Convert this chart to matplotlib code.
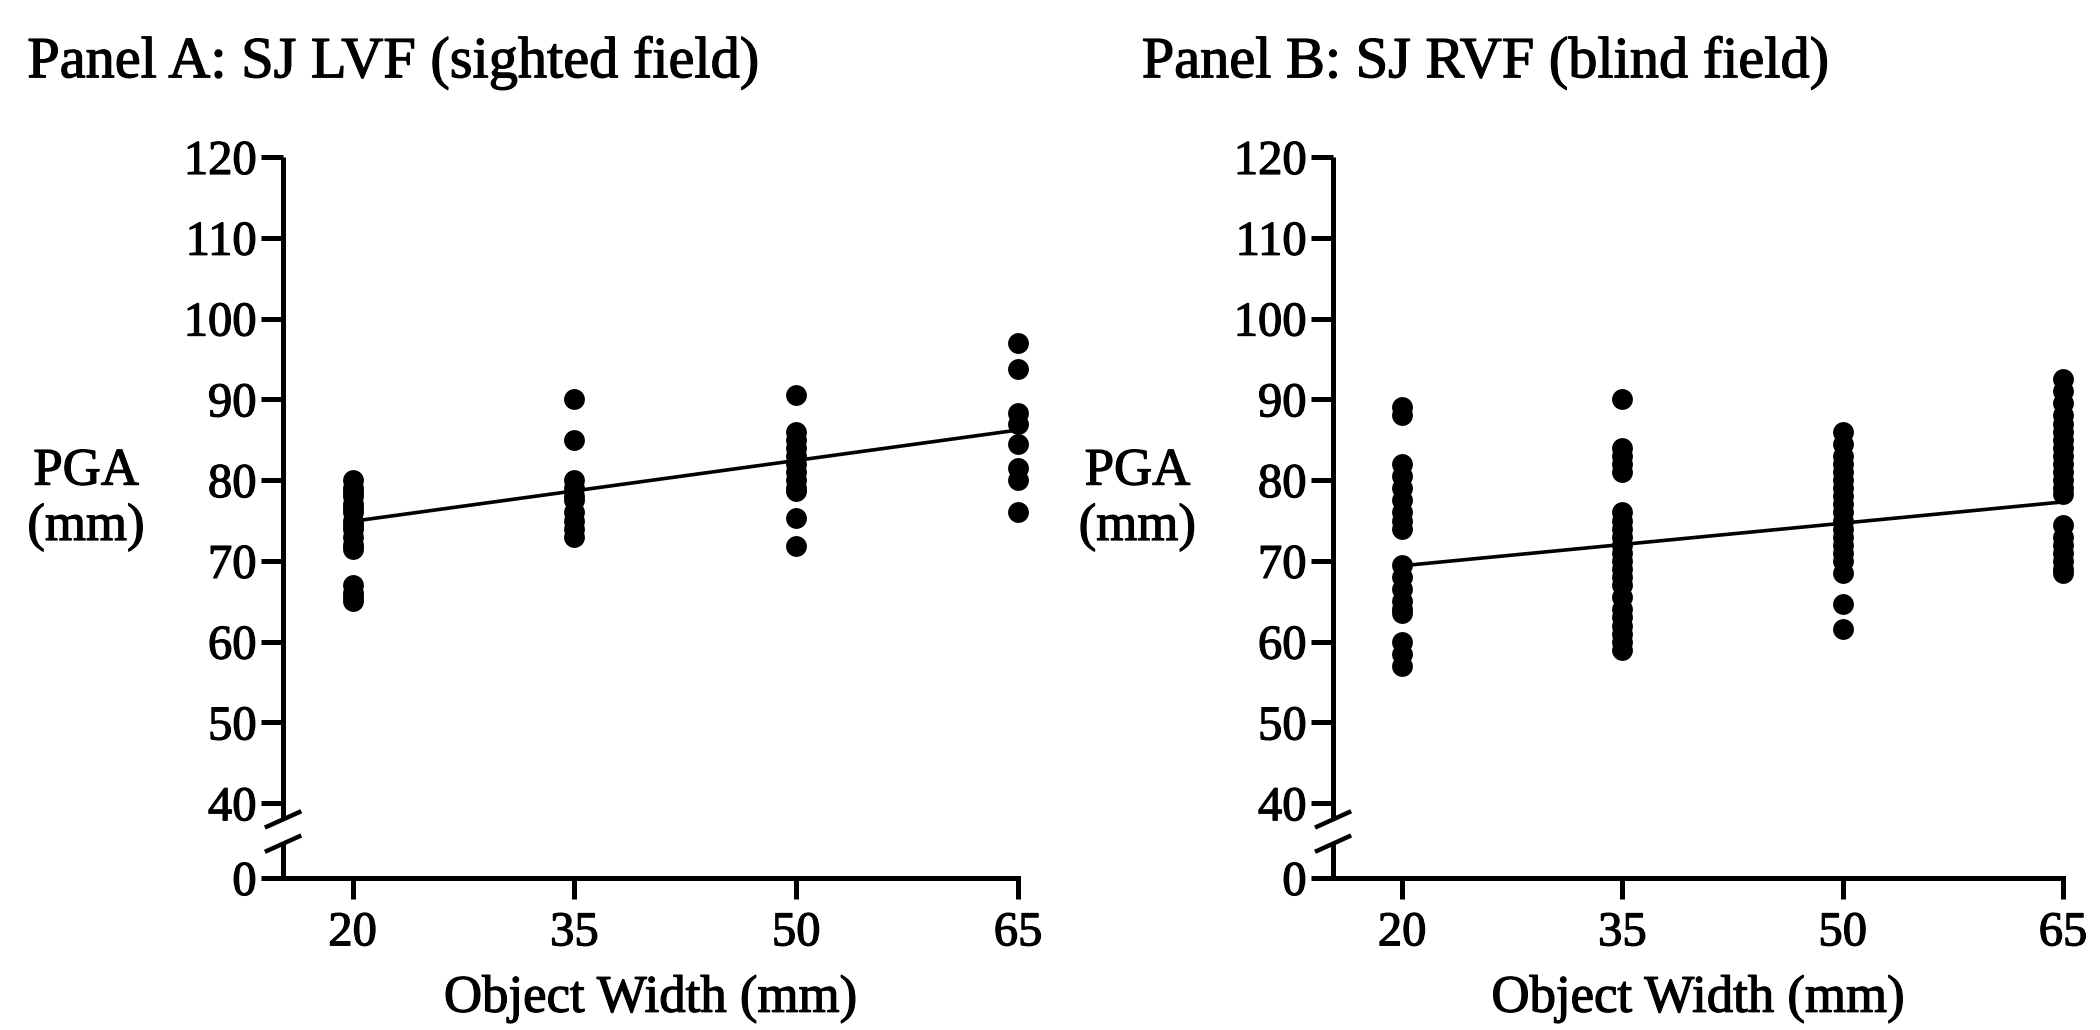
import matplotlib
matplotlib.use("Agg")
import matplotlib.pyplot as plt
import matplotlib.patheffects as pe

plt.rcParams['font.family'] = ['Liberation Serif', 'DejaVu Serif']

# Object widths (mm) and peak grip aperture (mm)
widths = [20, 35, 50, 65]

lvf_20 = [80, 79, 78.5, 78, 77, 76.5, 76, 75, 74.5, 74, 73, 72, 71.5, 67, 66, 65.5, 65]
lvf_35 = [90, 85, 80, 79, 78, 77.5, 76, 75, 74, 73]
lvf_50 = [90.5, 86, 85, 84, 83, 82, 81, 80, 79, 78.7, 75.3, 71.8]
lvf_65 = [97, 93.7, 88.3, 87, 84.5, 81.5, 80, 76]
lvf_fit = [74.9, 86.2]   # regression line at 20 and 65

rvf_20 = [89, 88, 82, 80.5, 79, 77.5, 76, 75, 74, 69.5, 68, 66.5, 65, 64, 63.5, 60, 58.5, 57]
rvf_35 = [90, 84, 83, 82, 81, 76, 75, 74, 73, 72, 71, 70, 69, 68, 67, 65.5, 64, 63, 62,
          61, 60, 59]
rvf_50 = [86, 84.5, 83, 82, 81, 80, 79, 78, 77, 76, 75, 74, 73, 72, 71, 70, 68.5, 64.7, 61.6]
rvf_65 = [92.5, 91, 89.5, 88, 87, 86, 85, 84, 83, 82, 81, 80, 79, 78.3, 74.5, 73, 72, 71,
          70, 69, 68.5]
rvf_fit = [69.4, 77.3]

y_ticks = [40, 50, 60, 70, 80, 90, 100, 110, 120]
Y_ZERO = 30.75   # where the "0" sits below the axis break
BREAK_LO = 35.0
BREAK_HI = 38.0

TICK_SIZE = 35
LABEL_SIZE = 38
TITLE_SIZE = 42
# scanned print looks a bit heavy, thicken the glyphs slightly
HEAVY = [pe.withStroke(linewidth=0.9, foreground='black')]


def draw_panel(ax, columns, fit, title, title_x):
    for w, vals in zip(widths, columns):
        ax.plot([w] * len(vals), vals, 'o', color='black', markersize=15,
                markeredgewidth=0, clip_on=False, zorder=3)
    ax.plot([widths[0], widths[-1]], fit, color='black', lw=2.6, zorder=4)

    ax.set_xlim(15.3, 65)
    ax.set_ylim(Y_ZERO, 120)
    ax.set_xticks(widths)
    ax.set_yticks([Y_ZERO] + y_ticks)
    ax.set_yticklabels(['0'] + [str(t) for t in y_ticks])
    ax.tick_params(labelsize=TICK_SIZE, width=3.6, length=16, pad=3)
    ax.tick_params(axis='x', length=15, pad=9)
    for lab in ax.get_xticklabels() + ax.get_yticklabels():
        lab.set_path_effects(HEAVY)

    for side in ['top', 'right', 'left']:
        ax.spines[side].set_visible(False)
    ax.spines['bottom'].set_linewidth(3.6)

    # left spine drawn in two pieces with a break
    tr = ax.get_yaxis_transform()
    ax.plot([0, 0], [Y_ZERO, BREAK_LO], color='black', lw=3.6, transform=tr,
            clip_on=False, solid_capstyle='butt')
    ax.plot([0, 0], [BREAK_HI, 120], color='black', lw=3.6, transform=tr,
            clip_on=False, solid_capstyle='butt')
    for yb in [BREAK_LO, BREAK_HI]:
        ax.plot([-0.022, 0.022], [yb - 0.9, yb + 0.9], color='black', lw=3.2,
                transform=tr, clip_on=False)

    ax.text(-0.268, 0.525, 'PGA\n(mm)', transform=ax.transAxes, fontsize=LABEL_SIZE,
            ha='center', va='center', linespacing=1.2, path_effects=HEAVY)
    xl = ax.set_xlabel('Object Width (mm)', fontsize=LABEL_SIZE, labelpad=14)
    xl.set_path_effects(HEAVY)
    ax.text(title_x, 1.13, title, transform=ax.transAxes, fontsize=TITLE_SIZE,
            ha='left', va='center', path_effects=HEAVY)


fig = plt.figure(figsize=(21, 10.3), dpi=100)
fig.patch.set_facecolor('white')
ax_a = fig.add_axes([0.1348, 0.1476, 0.3500, 0.7000])
ax_b = fig.add_axes([0.6348, 0.1476, 0.3476, 0.7000])

draw_panel(ax_a, [lvf_20, lvf_35, lvf_50, lvf_65], lvf_fit,
           'Panel A: SJ LVF (sighted field)', -0.348)
draw_panel(ax_b, [rvf_20, rvf_35, rvf_50, rvf_65], rvf_fit,
           'Panel B: SJ RVF (blind field)', -0.262)

fig.savefig('out.png', dpi=100)
